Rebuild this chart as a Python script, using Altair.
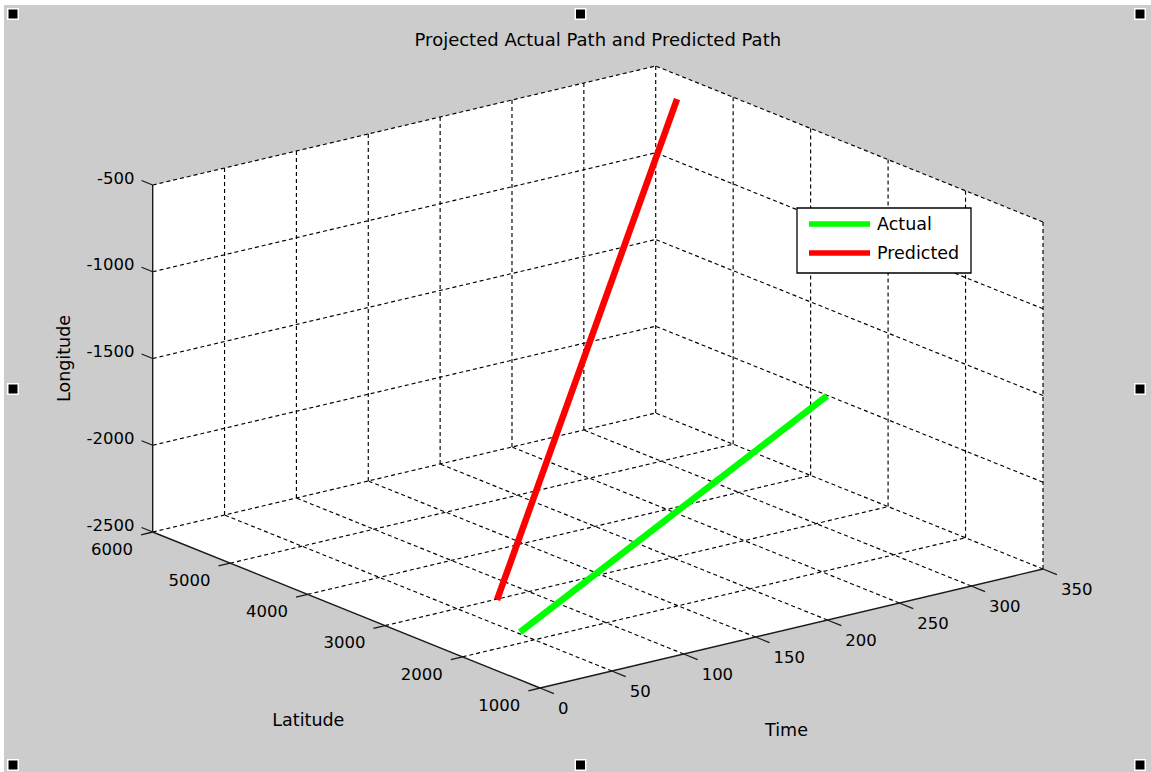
import altair as alt
import numpy as np
import pandas as pd

W, H = 1151, 772

# Axis limits and tick values
TIME_RANGE = (0, 350)
LAT_RANGE = (1000, 6000)
LON_RANGE = (-2500, -500)
time_ticks = [0, 50, 100, 150, 200, 250, 300, 350]
lat_ticks = [1000, 2000, 3000, 4000, 5000, 6000]
lon_ticks = [-2500, -2000, -1500, -1000, -500]

# Path endpoints (time, latitude, longitude)
actual_time = [0, 340]
actual_lat = [1258, 3603]
actual_lon = [-2224, -1951]
predicted_time = [0, 340]
predicted_lat = [1555, 5539]
predicted_lon = [-2092, -588]

series_names = ["Actual", "Predicted"]
series_colors = ["#00ff00", "#ff0000"]

# Orthographic view: screen position of the (t0, lat0, lon0) corner and
# the screen vector spanned by each full axis range
ORIGIN = np.array([540.0, 688.0])
T_VEC = np.array([503.0, -119.0])
LAT_VEC = np.array([-387.3, -156.0])
LON_VEC = np.array([0.0, -347.0])
TICK_LEN = 12.0
FONT = "DejaVu Sans"


def project(t, lat, lon):
    u = (np.atleast_1d(np.asarray(t, float)) - TIME_RANGE[0]) / (TIME_RANGE[1] - TIME_RANGE[0])
    a = (np.atleast_1d(np.asarray(lat, float)) - LAT_RANGE[0]) / (LAT_RANGE[1] - LAT_RANGE[0])
    b = (np.atleast_1d(np.asarray(lon, float)) - LON_RANGE[0]) / (LON_RANGE[1] - LON_RANGE[0])
    p = ORIGIN + np.outer(u, T_VEC) + np.outer(a, LAT_VEC) + np.outer(b, LON_VEC)
    return p[:, 0], p[:, 1]


def segments(pairs):
    rows = []
    for p0, p1 in pairs:
        x0, y0 = project(*p0)
        x1, y1 = project(*p1)
        rows.append({"x": x0[0], "y": y0[0], "x2": x1[0], "y2": y1[0]})
    return pd.DataFrame(rows).drop_duplicates()


t0, t1 = TIME_RANGE
la0, la1 = LAT_RANGE
lo0, lo1 = LON_RANGE

# Dotted grid on the three back planes
grid_pairs = []
for t in time_ticks[1:]:
    grid_pairs.append(((t, la1, lo0), (t, la1, lo1)))      # back-left wall
    grid_pairs.append(((t, la0, lo0), (t, la1, lo0)))      # floor
for lo in lon_ticks:
    grid_pairs.append(((t0, la1, lo), (t1, la1, lo)))      # back-left wall
    grid_pairs.append(((t1, la0, lo), (t1, la1, lo)))      # back-right wall
for la in lat_ticks:
    grid_pairs.append(((t1, la, lo0), (t1, la, lo1)))      # back-right wall
for la in lat_ticks[1:]:
    grid_pairs.append(((t0, la, lo0), (t1, la, lo0)))      # floor
grid_df = segments(grid_pairs)

# Solid axis lines
axis_df = segments([
    ((t0, la1, lo0), (t0, la1, lo1)),
    ((t0, la0, lo0), (t0, la1, lo0)),
    ((t0, la0, lo0), (t1, la0, lo0)),
])

unit = lambda v: v / np.linalg.norm(v)
lon_dir = unit(LAT_VEC)     # longitude ticks point outward along latitude
lat_dir = unit(-T_VEC)      # latitude ticks point back along time
time_dir = unit(-LAT_VEC)   # time ticks point back along latitude


def tick_frame(xs, ys, direction, labels, length):
    xs, ys = np.asarray(xs), np.asarray(ys)
    return pd.DataFrame({
        "x": xs, "y": ys,
        "x2": xs + direction[0] * length, "y2": ys + direction[1] * length,
        "label": [str(v) for v in labels],
    })


zx, zy = project([t0] * len(lon_ticks), [la1] * len(lon_ticks), lon_ticks)
lon_tick_df = tick_frame(zx, zy, lon_dir, lon_ticks, TICK_LEN)
lx, ly = project([t0] * len(lat_ticks), lat_ticks, [lo0] * len(lat_ticks))
lat_tick_df = tick_frame(lx, ly, lat_dir, lat_ticks, TICK_LEN)
tx, ty = project(time_ticks, [la0] * len(time_ticks), [lo0] * len(time_ticks))
time_tick_df = tick_frame(tx, ty, time_dir, time_ticks, TICK_LEN + 3)

# White background of the axes box (floor plus two back walls)
corner_x, corner_y = project([t0, t0, t1, t1, t0, t1], [la1, la1, la1, la0, la0, la0],
                             [lo0, lo1, lo1, lo1, lo0, lo0])
# corners: left-bottom, left-top, back-top, right-top, front, right-bottom
bx, bt = project([t1], [la1], [lo0])
xs_area = np.array([corner_x[0], corner_x[4], bx[0], corner_x[3]])
top = np.interp(xs_area, [corner_x[0], corner_x[2], corner_x[3]], [corner_y[1], corner_y[2], corner_y[3]])
bottom = np.interp(xs_area, [corner_x[0], corner_x[4], corner_x[5]], [corner_y[0], corner_y[4], corner_y[5]])
box_df = pd.DataFrame({"x": xs_area, "y": top, "y2": bottom})

# Paths
path_frames = []
for name, tt, la, lo in [("Actual", actual_time, actual_lat, actual_lon),
                         ("Predicted", predicted_time, predicted_lat, predicted_lon)]:
    px, py = project(tt, la, lo)
    path_frames.append(pd.DataFrame({"x": px, "y": py, "series": name, "step": range(len(tt))}))
path_df = pd.concat(path_frames, ignore_index=True)

xs = alt.Scale(domain=[0, W], nice=False, zero=False)
ys = alt.Scale(domain=[0, H], nice=False, zero=False, reverse=True)
color = alt.Color("series:N", scale=alt.Scale(domain=series_names, range=series_colors), legend=None)
X = lambda f="x": alt.X(f"{f}:Q", scale=xs, axis=None)
Y = lambda f="y": alt.Y(f"{f}:Q", scale=ys, axis=None)

box = alt.Chart(box_df).mark_area(color="white", opacity=1).encode(x=X(), y=Y(), y2="y2:Q")

grid = alt.Chart(grid_df).mark_rule(color="black", strokeWidth=1.15, strokeDash=[4, 3]).encode(
    x=X(), y=Y(), x2="x2:Q", y2="y2:Q")

axes = alt.Chart(axis_df).mark_rule(color="#1a1a1a", strokeWidth=1.4).encode(
    x=X(), y=Y(), x2="x2:Q", y2="y2:Q")

ticks = alt.Chart(pd.concat([lon_tick_df, lat_tick_df, time_tick_df])).mark_rule(
    color="#1a1a1a", strokeWidth=1.3).encode(x=X(), y=Y(), x2="x2:Q", y2="y2:Q")

paths = alt.Chart(path_df).mark_line(strokeWidth=6.5, strokeCap="butt").encode(
    x=X(), y=Y(), color=color, detail="series:N", order="step:Q")

lon_labels = alt.Chart(lon_tick_df).mark_text(
    align="right", baseline="middle", dx=-7, dy=-2, font=FONT, fontSize=16.5, color="black"
).encode(x=X("x2"), y=Y("y2"), text="label:N")
lat_labels = alt.Chart(lat_tick_df).mark_text(
    align="right", baseline="middle", dx=-8, dy=15, font=FONT, fontSize=16.5, color="black"
).encode(x=X("x2"), y=Y("y2"), text="label:N")
time_labels = alt.Chart(time_tick_df).mark_text(
    align="left", baseline="middle", dx=4, dy=15, font=FONT, fontSize=16.5, color="black"
).encode(x=X("x2"), y=Y("y2"), text="label:N")

# Axis titles anchored at each axis midpoint
mx_t, my_t = project([(t0 + t1) / 2], [la0], [lo0])
mx_la, my_la = project([t0], [(la0 + la1) / 2], [lo0])
mx_lo, my_lo = project([t0], [la1], [(lo0 + lo1) / 2])
titles_df = pd.DataFrame({
    "x": [mx_t[0] - 5, mx_la[0] - 38, mx_lo[0] - 88],
    "y": [my_t[0] + 102, my_la[0] + 111, my_lo[0]],
    "text": ["Time", "Latitude", "Longitude"],
    "angle": [0, 0, 270],
})
axis_titles = alt.Chart(titles_df[titles_df.angle == 0]).mark_text(
    align="center", baseline="middle", font=FONT, fontSize=17.5, color="black"
).encode(x=X(), y=Y(), text="text:N")
lon_title = alt.Chart(titles_df[titles_df.angle == 270]).mark_text(
    align="center", baseline="middle", angle=270, font=FONT, fontSize=17.5, color="black"
).encode(x=X(), y=Y(), text="text:N")

title_df = pd.DataFrame({"x": [(corner_x[0] + corner_x[3]) / 2], "y": [41],
                         "text": ["Projected Actual Path and Predicted Path"]})
title = alt.Chart(title_df).mark_text(
    align="center", baseline="middle", font=FONT, fontSize=18, color="black"
).encode(x=X(), y=Y(), text="text:N")

# Legend box
LEG_X, LEG_Y, LEG_W, LEG_H = 797, 208, 174, 65
legend_df = pd.DataFrame({
    "series": series_names,
    "y": [LEG_Y + 16 + 29 * i for i in range(len(series_names))],
})
legend_frame = alt.Chart(pd.DataFrame({"k": [0]})).mark_rect(
    fill="white", stroke="black", strokeWidth=1.3
).encode(x=alt.value(LEG_X), x2=alt.value(LEG_X + LEG_W), y=alt.value(LEG_Y), y2=alt.value(LEG_Y + LEG_H))
legend_lines = alt.Chart(legend_df).mark_rule(strokeWidth=5.5).encode(
    x=alt.value(LEG_X + 12), x2=alt.value(LEG_X + 73), y=Y(), color=color)
legend_text = alt.Chart(legend_df).mark_text(
    align="left", baseline="middle", dy=1, font=FONT, fontSize=17.5, color="black"
).encode(x=alt.value(LEG_X + 80), y=Y(), text="series:N")

# Figure border and selection handles
border = alt.Chart(pd.DataFrame({"k": [0]})).mark_rect(color="white").encode(
    x=alt.value(0), x2=alt.value(W), y=alt.value(0), y2=alt.value(5))
border_l = alt.Chart(pd.DataFrame({"k": [0]})).mark_rect(color="white").encode(
    x=alt.value(0), x2=alt.value(4), y=alt.value(0), y2=alt.value(H))
hx = [13, W / 2 + 5, W - 11]
hy = [14, H / 2 + 3, H - 7]
handles_df = pd.DataFrame([{"x": x, "y": y} for y in hy for x in hx
                           if not (x == hx[1] and y == hy[1])])
handles = alt.Chart(handles_df).mark_square(
    size=110, fill="black", stroke="white", strokeWidth=1.5, opacity=1
).encode(x=X(), y=Y())

chart = alt.layer(
    border, border_l, box, grid, axes, ticks, paths,
    lon_labels, lat_labels, time_labels, axis_titles, lon_title, title,
    legend_frame, legend_lines, legend_text, handles,
).properties(
    width=W, height=H, padding=0, background="#cccccc",
    autosize=alt.AutoSizeParams(type="none"),
).configure_view(stroke=None)

chart.save("out.html", embed_options={"renderer": "svg", "actions": False})
